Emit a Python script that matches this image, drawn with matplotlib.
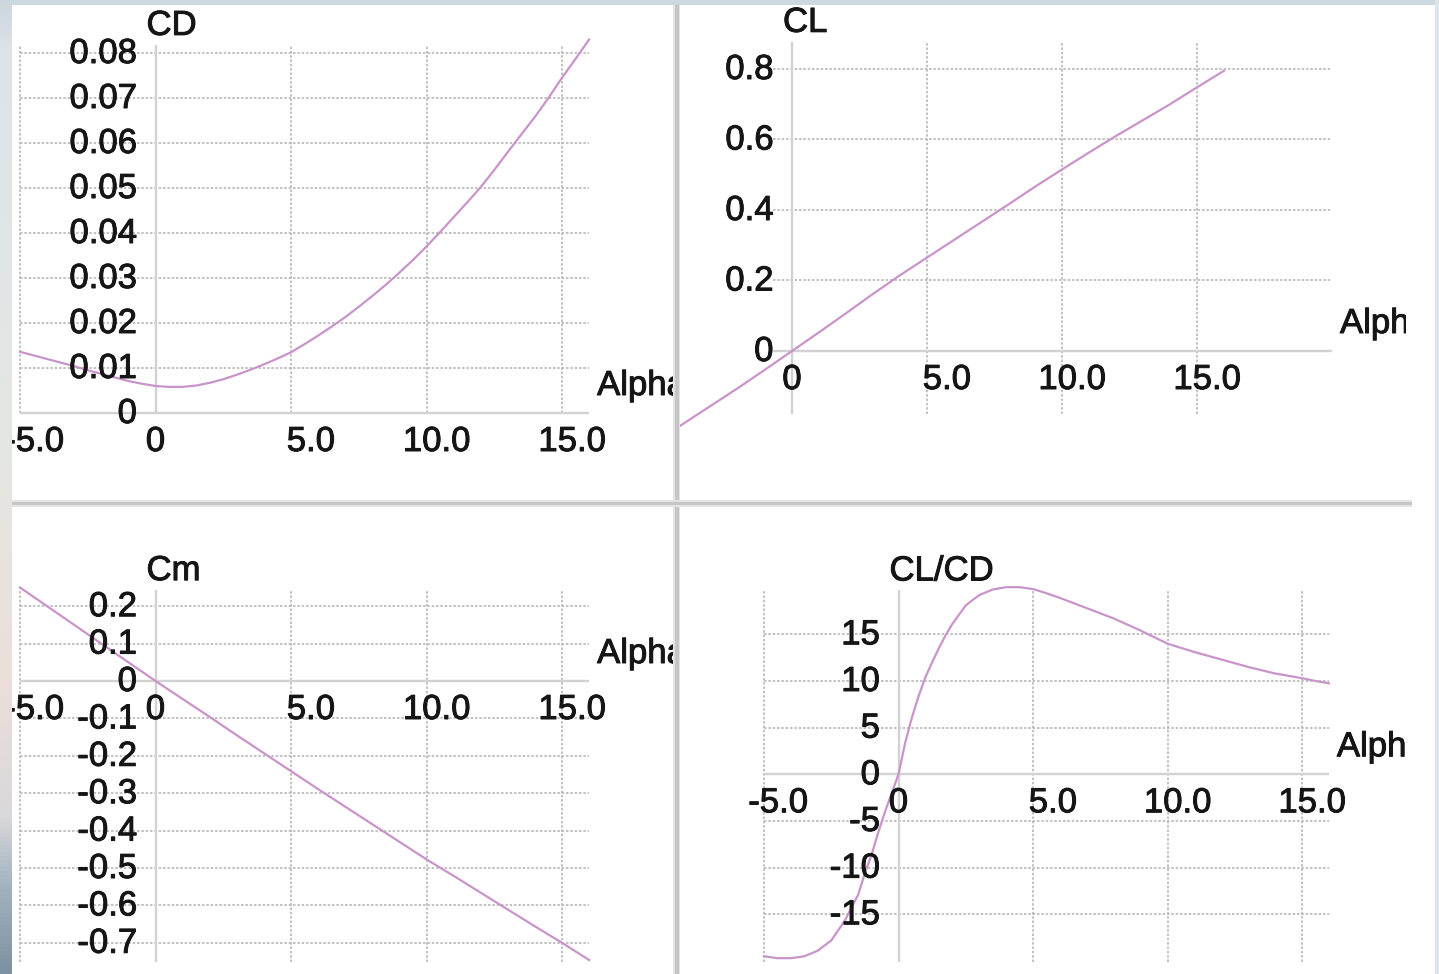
import numpy as np
import matplotlib
matplotlib.use("Agg")
import matplotlib.pyplot as plt
import matplotlib.patheffects as pe
from matplotlib.colors import LinearSegmentedColormap
from matplotlib.patches import Rectangle

# ---------------- data ----------------
alpha = [-5, -4, -3, -2, -1, 0, 1, 2, 3, 4, 5, 6, 7, 8, 9, 10, 11, 12, 13, 14, 15, 16]

cl = [-0.255, -0.205, -0.155, -0.105, -0.053, 0.0, 0.053, 0.107, 0.162, 0.215, 0.265,
      0.315, 0.365, 0.415, 0.466, 0.515, 0.563, 0.610, 0.655, 0.700, 0.748, 0.795]

cm = [0.25, 0.20, 0.15, 0.10, 0.05, 0.0, -0.048, -0.096, -0.145, -0.193, -0.241, -0.289,
      -0.336, -0.383, -0.430, -0.477, -0.521, -0.566, -0.611, -0.656, -0.700, -0.746]

alpha_cd = [-5, -4.5, -4, -3.5, -3, -2.5, -2, -1.5, -1, -0.5, 0, 0.5, 1, 1.5, 2, 2.5, 3,
            3.5, 4, 4.5, 5, 5.5, 6, 6.5, 7, 7.5, 8, 8.5, 9, 9.5, 10, 10.5, 11, 11.5, 12,
            12.5, 13, 13.5, 14, 14.5, 15, 15.5, 16]
cd = [0.0136, 0.0128, 0.0120, 0.0112, 0.0104, 0.0095, 0.0087, 0.0079, 0.0071, 0.0065,
      0.0060, 0.0058, 0.0058, 0.0061, 0.0067, 0.0075, 0.0085, 0.0096, 0.0108, 0.0121,
      0.0135, 0.0153, 0.0172, 0.0192, 0.0213, 0.0236, 0.0260, 0.0285, 0.0312, 0.0340,
      0.0370, 0.0402, 0.0435, 0.0468, 0.0502, 0.0540, 0.0580, 0.0619, 0.0658, 0.0700,
      0.0745, 0.0787, 0.0830]

alpha_ld = [-5, -4.5, -4, -3.5, -3, -2.5, -2, -1.5, -1.25, -1, -0.75, -0.5, -0.25, 0,
            0.25, 0.5, 0.75, 1, 1.25, 1.5, 1.75, 2, 2.5, 3, 3.5, 4, 4.5, 5, 5.5, 6, 6.5,
            7, 7.5, 8, 8.5, 9, 9.5, 10, 10.5, 11, 11.5, 12, 12.5, 13, 13.5, 14, 14.5,
            15, 15.5, 16]
cl_cd = [-19.5, -19.7, -19.7, -19.5, -18.9, -17.8, -15.7, -12.9, -10.6, -8.6, -6.2, -4.0,
         -2.0, 0.0, 3.4, 6.1, 8.4, 10.4, 12.0, 13.5, 14.9, 16.1, 18.1, 19.2, 19.8, 20.05,
         20.05, 19.85, 19.4, 18.9, 18.35, 17.8, 17.25, 16.7, 16.05, 15.4, 14.7, 14.0,
         13.55, 13.1, 12.7, 12.3, 11.9, 11.5, 11.15, 10.8, 10.55, 10.3, 10.0, 9.75]

alpha_ticks = [-5, 0, 5, 10, 15]
alpha_tick_labels = ["-5.0", "0", "5.0", "10.0", "15.0"]

cd_ticks = [0, 0.01, 0.02, 0.03, 0.04, 0.05, 0.06, 0.07, 0.08]
cd_tick_labels = ["0", "0.01", "0.02", "0.03", "0.04", "0.05", "0.06", "0.07", "0.08"]

cl_ticks = [0, 0.2, 0.4, 0.6, 0.8]
cl_tick_labels = ["0", "0.2", "0.4", "0.6", "0.8"]

cm_ticks = [0.2, 0.1, 0, -0.1, -0.2, -0.3, -0.4, -0.5, -0.6, -0.7]
cm_tick_labels = ["0.2", "0.1", "0", "-0.1", "-0.2", "-0.3", "-0.4", "-0.5", "-0.6", "-0.7"]

ld_ticks = [15, 10, 5, 0, -5, -10, -15]
ld_tick_labels = ["15", "10", "5", "0", "-5", "-10", "-15"]

x_title = "Alpha"

# ---------------- style ----------------
W, H = 1439, 974
FONT = ["Liberation Sans", "DejaVu Sans"]
FS = 25
TXT = "#151515"
CURVE = "#c994c9"
GRID = "#b8b8b8"
AXIS = "#d2d2d2"
TEXT_FX = [pe.withStroke(linewidth=0.7, foreground=TXT)]

plt.rcParams["font.family"] = FONT

fig = plt.figure(figsize=(W / 100, H / 100), dpi=100, facecolor="white")


def make_panel(rect, x0, sx, y0, sy):
    """rect in pixels (left, top, right, bottom); mapping px = x0 + sx*x, py = y0 - sy*y"""
    l, t, r, b = rect
    ax = fig.add_axes([l / W, 1 - b / H, (r - l) / W, (b - t) / H])
    ax.set_xlim((l - x0) / sx, (r - x0) / sx)
    ax.set_ylim((y0 - b) / sy, (y0 - t) / sy)
    ax.axis("off")
    return ax


def lbl(ax, s, xy, off, ha):
    ax.annotate(s, xy=xy, xytext=off, textcoords="offset pixels", ha=ha,
                va="baseline", fontsize=FS, color=TXT, clip_on=True,
                annotation_clip=False, path_effects=TEXT_FX)


def draw_panel(ax, xs, ys, title, xticks, xlabels, yticks, ylabels, gx, gy):
    gx0, gx1 = gx
    gy0, gy1 = gy
    hy = [v for v in yticks if v != 0]
    vx = [v for v in xticks if v != 0]
    ax.hlines(hy, gx0, gx1, colors=GRID, lw=1.2, linestyles=(0, (1.5, 1.1)), zorder=1)
    ax.vlines(vx, gy0, gy1, colors=GRID, lw=1.2, linestyles=(0, (1.5, 1.1)), zorder=1)
    ax.hlines([0], gx0, gx1, colors=AXIS, lw=1.7, zorder=1.5)
    ax.vlines([0], gy0, gy1, colors=AXIS, lw=1.7, zorder=1.5)
    ax.plot(xs, ys, color=CURVE, lw=1.6, zorder=2, solid_joinstyle="round")
    for v, s in zip(yticks, ylabels):
        lbl(ax, s, (0, v), (-18.5, -10), "right")
    for v, s in zip(xticks, xlabels):
        if v == 0:
            lbl(ax, s, (v, 0), (0, -38), "center")
        else:
            lbl(ax, s, (v, 0), (44, -38), "right")
    lbl(ax, title, (0, gy1), (-9, 10), "left")
    lbl(ax, x_title, (gx1, 0), (8, 18), "left")


# CD panel (top-left)
axA = make_panel((12, 5, 674, 500), 155.5, 27.1, 413, 4500)
draw_panel(axA, alpha_cd, cd, "CD", alpha_ticks, alpha_tick_labels, cd_ticks,
           cd_tick_labels, (-5, 16), (0, 0.0818))

# CL panel (top-right)
axB = make_panel((680, 5, 1406, 500), 792, 27.0, 351, 352.5)
draw_panel(axB, alpha, cl, "CL", alpha_ticks[1:], alpha_tick_labels[1:], cl_ticks,
           cl_tick_labels, (-0.7, 20), (-0.18, 0.877))

# Cm panel (bottom-left)
axC = make_panel((12, 507, 674, 974), 155.5, 27.1, 681, 374)
draw_panel(axC, alpha, cm, "Cm", alpha_ticks, alpha_tick_labels, cm_ticks, cm_tick_labels,
           (-5, 16), (-0.751, 0.243))

# CL/CD panel (bottom-right)
axD = make_panel((680, 507, 1406, 974), 898.5, 26.9, 774.3, 9.333)
draw_panel(axD, alpha_ld, cl_cd, "CL/CD", alpha_ticks, alpha_tick_labels, ld_ticks,
           ld_tick_labels, (-5, 16), (-20.1, 19.7))

# ---------------- window decoration ----------------
def frect(l, t, r, b, color, z=3):
    fig.add_artist(Rectangle((l / W, 1 - b / H), (r - l) / W, (b - t) / H,
                             transform=fig.transFigure, facecolor=color,
                             edgecolor="none", zorder=z))

# separators
frect(672.5, 5, 680, 974, "#e4e4e4")
frect(674.5, 5, 678.5, 974, "#c6c6c6")
frect(12, 499.5, 1412, 507, "#e4e4e4")
frect(12, 501.5, 1412, 505, "#c6c6c6")
# top and right window edge
frect(0, 0, 1439, 5, "#cdd8e0", z=4)
frect(1435, 0, 1439, 974, "#dce5ec", z=4)

# left strip (background image edge)
strip = fig.add_axes([0, 0, 12 / W, 1], zorder=6)
strip.axis("off")
cmap = LinearSegmentedColormap.from_list(
    "bg", [(0.0, "#cbd6de"), (0.05, "#dde4e9"), (0.45, "#e4e7e3"), (0.70, "#ecdfda"),
           (0.84, "#d9d8da"), (0.91, "#a3b3bf"), (1.0, "#7d92a1")])
strip.imshow(np.linspace(0, 1, 256).reshape(-1, 1), aspect="auto", cmap=cmap,
             extent=[0, 1, 1, 0])

fig.savefig("out.png", dpi=100, facecolor="white")
